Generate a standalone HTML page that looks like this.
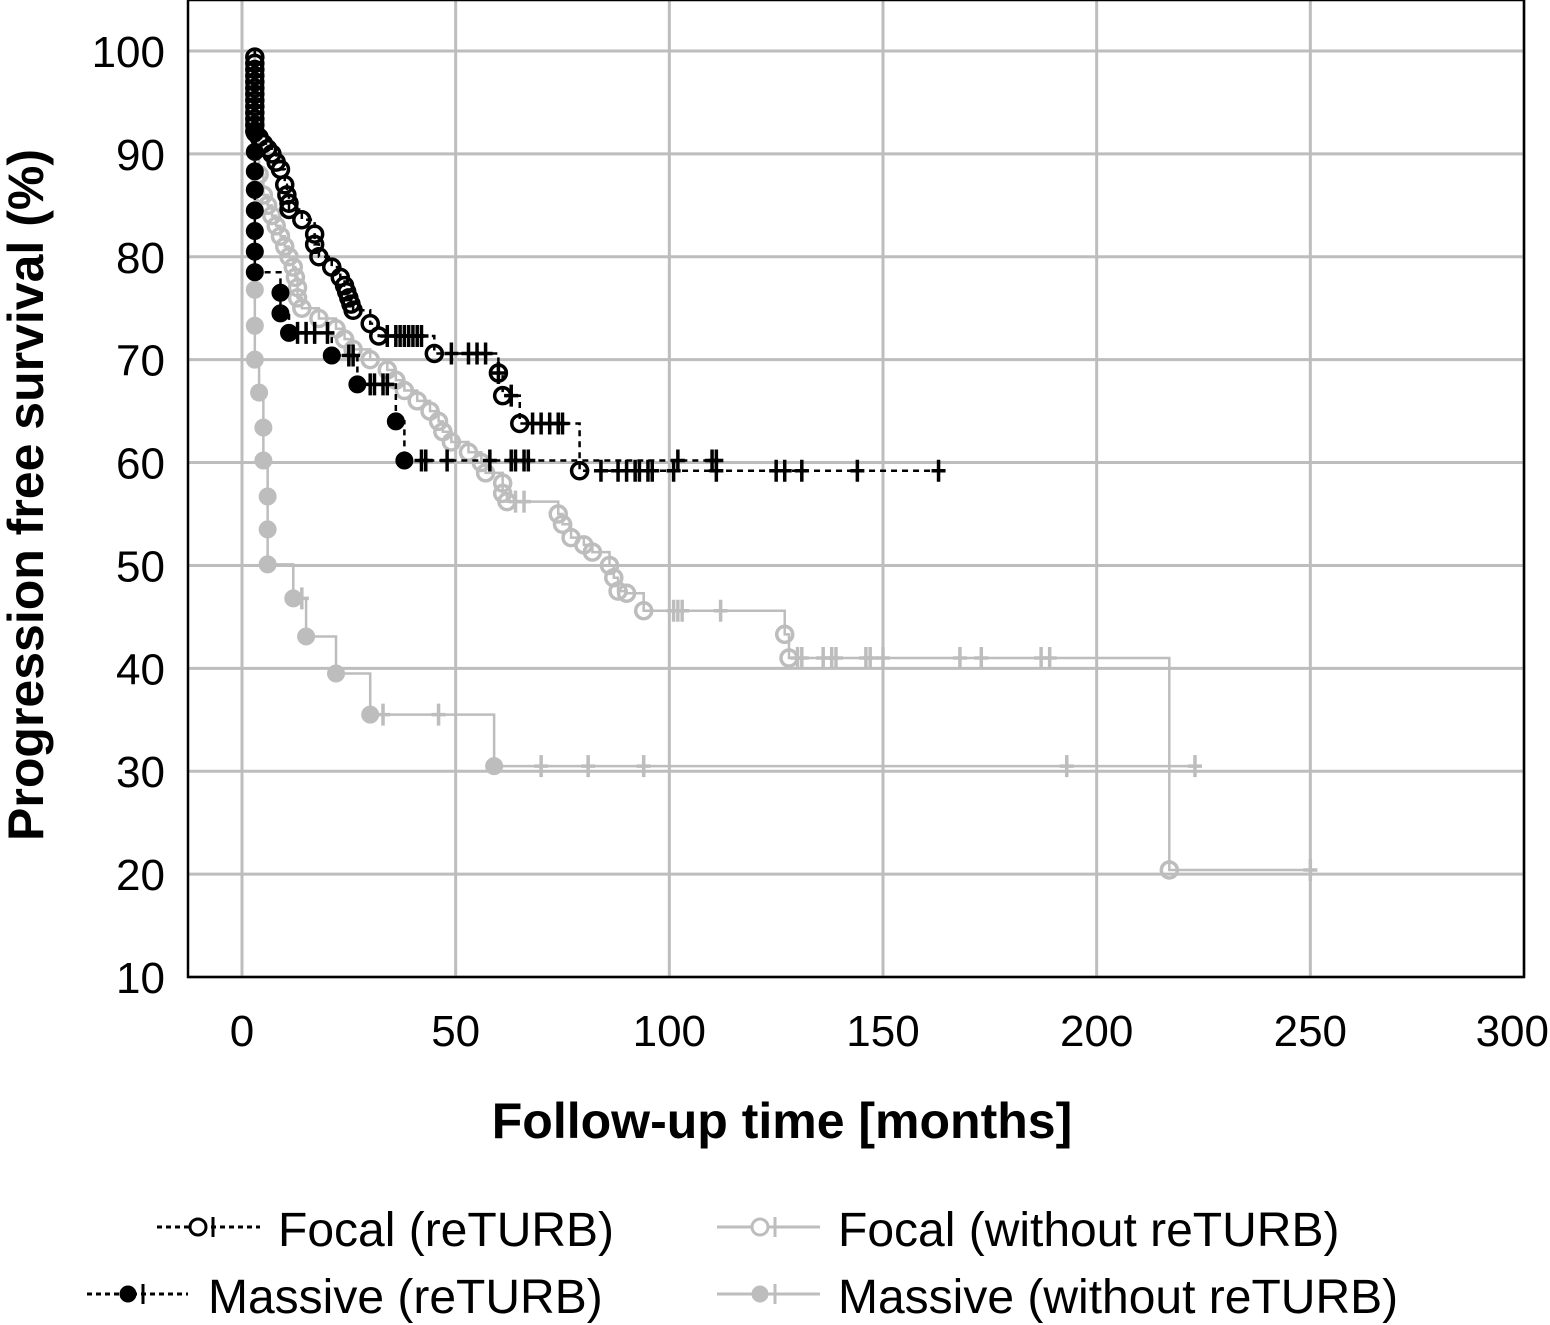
<!DOCTYPE html>
<html><head><meta charset="utf-8"><style>
html,body{margin:0;padding:0;background:#fff;}
svg{display:block;font-family:"Liberation Sans",sans-serif;}
</style></head><body>
<svg id="chart" width="1550" height="1325" viewBox="0 0 1550 1325">
<g id="grid"></g>
<g id="series"></g>
<rect x="188" y="0" width="1336" height="977" fill="none" stroke="#000" stroke-width="2.5"/>
<g id="ticks"></g>
<text x="782" y="1138" font-size="50" font-weight="bold" text-anchor="middle">Follow-up time [months]</text>
<text transform="translate(43,495) rotate(-90)" font-size="50" font-weight="bold" text-anchor="middle">Progression free survival (%)</text>
<g id="legend"></g>
</svg>
<script>
const xTicks=[0,50,100,150,200,250,300];
const yTicks=[10,20,30,40,50,60,70,80,90,100];
const seriesNames=["Focal (reTURB)","Massive (reTURB)","Focal (without reTURB)","Massive (without reTURB)"];
const focalReEvents=[[3,99.4],[3,98.8],[3,98.2],[3,97.6],[3,97],[3,96.4],[3,95.8],[3,95.2],[3,94.6],[3,94],[3,93.4],[3,92.8],[3,92.2],[4,91.6],[5,91],[6,90.5],[7,90],[8,89.2],[9,88.5],[10,87],[10.5,86],[11,85.2],[11,84.6],[14,83.6],[17,82.2],[17,81.2],[18,80],[21,79],[23,78],[24,77.2],[24.5,76.6],[25,76],[25.5,75.4],[26,74.8],[30,73.5],[32,72.3],[45,70.6],[60,68.7],[61,66.5],[65,63.8],[79,59.2]];
const focalReCensor=[34,36,37,38,39,40,41,42,49,53,55,57,60,63,68,70,72,74,75,84,88,90,92,93,95,96,101,111,125,127,131,144,163];
const focalReEnd=163;
const massiveReEvents=[[3,92],[3,90.2],[3,88.3],[3,86.5],[3,84.5],[3,82.5],[3,80.5],[3,78.5],[9,76.5],[9,74.5],[11,72.6],[21,70.4],[27,67.6],[36,64],[38,60.2]];
const massiveReCensor=[13,15,17,20,25,26,30,31,33,34,42,43,48,58,63,64,66,67,102,110,111];
const massiveReEnd=111;
const focalWoEvents=[[3,96],[3,93],[4,88],[5,86],[6,85],[7,84],[8,83],[9,82],[10,81],[11,80],[12,79],[12.5,78],[13,77],[13,76],[14,75],[18,74],[22,73],[24,72],[26,71],[30,70],[34,69],[36,68],[38,67],[41,66],[44,65],[46,64],[47,63],[49,62],[53,61],[56,60],[57,59],[61,58],[61,57],[62,56.2],[74,55],[75,54],[77,52.7],[80,52],[82,51.3],[86,50],[87,48.8],[88,47.5],[90,47.3],[94,45.6],[127,43.3],[128,41],[217,20.4]];
const focalWoCensor=[64,66,101,102,103,112,130,131,136,138,139,146,147,150,168,173,187,189,250];
const focalWoEnd=250;
const massiveWoEvents=[[3,76.8],[3,73.3],[3,70],[4,66.8],[5,63.4],[5,60.2],[6,56.7],[6,53.5],[6,50.1],[12,46.8],[15,43.1],[22,39.5],[30,35.5],[59,30.5]];
const massiveWoCensor=[14,33,46,70,81,94,193,223];
const massiveWoEnd=223;

const NS="http://www.w3.org/2000/svg";
const X=t=>242+t*(1524-242)/300;
const Y=v=>51+(100-v)*(977-51)/90;
function mk(tag,attrs,parent){const e=document.createElementNS(NS,tag);for(const k in attrs)e.setAttribute(k,attrs[k]);parent.appendChild(e);return e;}
const grid=document.getElementById('grid'),ticks=document.getElementById('ticks'),ser=document.getElementById('series'),leg=document.getElementById('legend');
xTicks.forEach((t,i)=>{
  const l=mk('line',{x1:X(t),x2:X(t),y1:0,y2:977,stroke:'#bdbdbd','stroke-width':3},grid);
  
  
  const last=i===xTicks.length-1;
  const tx=mk('text',{x:last?1549:X(t),y:1046,'font-size':44,'text-anchor':last?'end':'middle'},ticks);tx.textContent=t;
  
  
});
yTicks.forEach(v=>{
  const l=mk('line',{x1:188,x2:1524,y1:Y(v),y2:Y(v),stroke:'#bdbdbd','stroke-width':3},grid);
  
  
  const tx=mk('text',{x:165,y:Y(v)+16,'font-size':44,'text-anchor':'end'},ticks);tx.textContent=v;
  
  
});
function survAt(events,t){let s=100;events.forEach(e=>{if(e[0]<=t)s=e[1];});return s;}
function drawSeries(name,events,censor,end,color,dash,filled){
  const g=mk('g',{},ser);
  
  
  let d=`M${X(3)},${Y(100)}`;
  events.forEach(e=>{d+=` H${X(e[0])} V${Y(e[1])}`;});
  d+=` H${X(end)}`;
  mk('path',{d:d,fill:'none',stroke:color,'stroke-width':2.5,'stroke-dasharray':dash},g);
  censor.forEach(t=>{
    const y=Y(survAt(events,t));
    const c=mk('path',{d:`M${X(t)},${y-11}V${y+11}M${X(t)-7},${y}H${X(t)+7}`,stroke:color,'stroke-width':3.5,fill:'none'},g);
    
    
  });
  events.forEach(e=>{
    const c=mk('circle',{cx:X(e[0]),cy:Y(e[1]),r:filled?8.5:8,fill:filled?color:'none',stroke:color,'stroke-width':filled?1:3.5},g);
    
    
  });
}
drawSeries('massive-without-returb-curve',massiveWoEvents,massiveWoCensor,massiveWoEnd,'#bdbdbd','none',true);
drawSeries('focal-without-returb-curve',focalWoEvents,focalWoCensor,focalWoEnd,'#bdbdbd','none',false);
drawSeries('massive-returb-curve',massiveReEvents,massiveReCensor,massiveReEnd,'#000','6 5',true);
drawSeries('focal-returb-curve',focalReEvents,focalReCensor,focalReEnd,'#000','6 5',false);

// [lineStart, lineEnd, y, color, dash, filled, markerX, textX]
const legPos=[[157,260,1230,'#000','5 4',false,198,278],[87,188,1297,'#000','5 4',true,128,208],[717,820,1230,'#bdbdbd','none',false,760,838],[717,820,1297,'#bdbdbd','none',true,760,838]];
seriesNames.forEach((n,i)=>{
  const p=legPos[i];
  const g=mk('g',{},leg);
  
  
  mk('line',{x1:p[0],x2:p[1],y1:p[2]-3,y2:p[2]-3,stroke:p[3],'stroke-width':3,'stroke-dasharray':p[4]},g);
  mk('circle',{cx:p[6],cy:p[2]-3,r:8,fill:p[5]?p[3]:'#fff',stroke:p[3],'stroke-width':p[5]?1:3},g);
  mk('line',{x1:p[6]+15,x2:p[6]+15,y1:p[2]-13,y2:p[2]+7,stroke:p[3],'stroke-width':3},g);
  const tx=mk('text',{x:p[7],y:p[2]+16,'font-size':48},g);tx.textContent=n;
});
</script>
</body></html>
